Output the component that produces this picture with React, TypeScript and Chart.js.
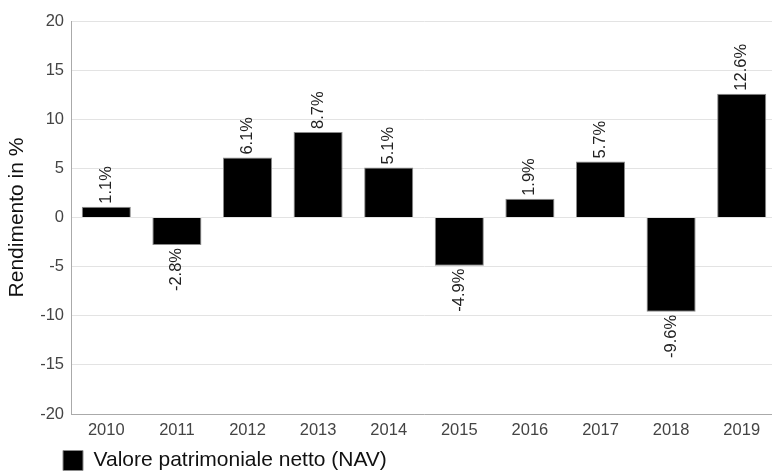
import React, { useEffect, useRef } from "react";
import { Chart, registerables } from "chart.js";

Chart.register(...registerables);

const categories = ["2010", "2011", "2012", "2013", "2014", "2015", "2016", "2017", "2018", "2019"];
const navReturns = [1.1, -2.8, 6.1, 8.7, 5.1, -4.9, 1.9, 5.7, -9.6, 12.6];
const seriesName = "Valore patrimoniale netto (NAV)";
const yAxisTitle = "Rendimento in %";
const yMin = -20;
const yMax = 20;
const yStep = 5;

const FONT = "'Liberation Sans', Arial, Helvetica, sans-serif";

const valueLabels = {
  id: "valueLabels",
  afterDatasetsDraw(chart: any) {
    const ctx = chart.ctx;
    const meta = chart.getDatasetMeta(0);
    const data = chart.data.datasets[0].data as number[];
    ctx.save();
    ctx.font = `16.5px ${FONT}`;
    ctx.fillStyle = "#222";
    ctx.textBaseline = "middle";
    meta.data.forEach((el: any, i: number) => {
      const v = data[i];
      const txt = v.toFixed(1) + "%";
      ctx.save();
      if (v >= 0) {
        ctx.translate(el.x, el.y - 3);
        ctx.rotate(-Math.PI / 2);
        ctx.textAlign = "left";
      } else {
        ctx.translate(el.x, el.y + 3);
        ctx.rotate(-Math.PI / 2);
        ctx.textAlign = "right";
      }
      ctx.fillText(txt, 0, 0);
      ctx.restore();
    });
    ctx.restore();
  },
};

const legendShift = {
  id: "legendShift",
  afterLayout(chart: any) {
    const lg = chart.legend;
    if (lg) {
      const h = lg.height;
      lg.left = 61;
      lg.top = 448;
      lg.bottom = 448 + h;
    }
  },
};

export default function App() {
  const ref = useRef<HTMLCanvasElement | null>(null);
  useEffect(() => {
    if (!ref.current) return;
    const chart = new Chart(ref.current, {
      type: "bar",
      data: {
        labels: categories,
        datasets: [
          {
            label: seriesName,
            data: navReturns,
            backgroundColor: "#000000",
            borderColor: "#8a8a8a",
            borderWidth: 1,
            categoryPercentage: 1,
            barPercentage: 0.695,
          },
        ],
      },
      options: {
        responsive: false,
        animation: false,
        devicePixelRatio: 1,
        layout: { padding: { left: 0, right: 0, top: 21, bottom: 0 } },
        plugins: {
          legend: {
            position: "bottom",
            align: "start",
            labels: {
              boxWidth: 20,
              boxHeight: 20,
              padding: 2,
              color: "#111",
              font: { size: 21, family: FONT },
            },
          },
          tooltip: { enabled: false },
        },
        scales: {
          x: {
            grid: { display: false, drawTicks: false },
            border: { display: true, color: "#aaaaaa" },
            ticks: { color: "#444", padding: 7, font: { size: 16.5, family: FONT }, maxRotation: 0 },
            afterFit(scale: any) {
              scale.height = 26;
            },
          },
          y: {
            min: yMin,
            max: yMax,
            grid: { color: "#e3e3e3", drawTicks: false },
            border: { display: true, color: "#aaaaaa" },
            ticks: { stepSize: yStep, color: "#444", padding: 7, font: { size: 16.5, family: FONT } },
            title: {
              display: true,
              text: yAxisTitle,
              color: "#111",
              padding: { top: 5, bottom: 0 },
              font: { size: 21, family: FONT },
            },
            afterFit(scale: any) {
              scale.width = 71;
            },
          },
        },
      },
      plugins: [valueLabels, legendShift],
    });
    return () => chart.destroy();
  }, []);
  return (
    <div style={{ position: "fixed", left: 0, top: 0, width: 772, height: 473, overflow: "hidden", background: "#fff" }}>
      <canvas ref={ref} width={777} height={473} style={{ display: "block" }} />
    </div>
  );
}
